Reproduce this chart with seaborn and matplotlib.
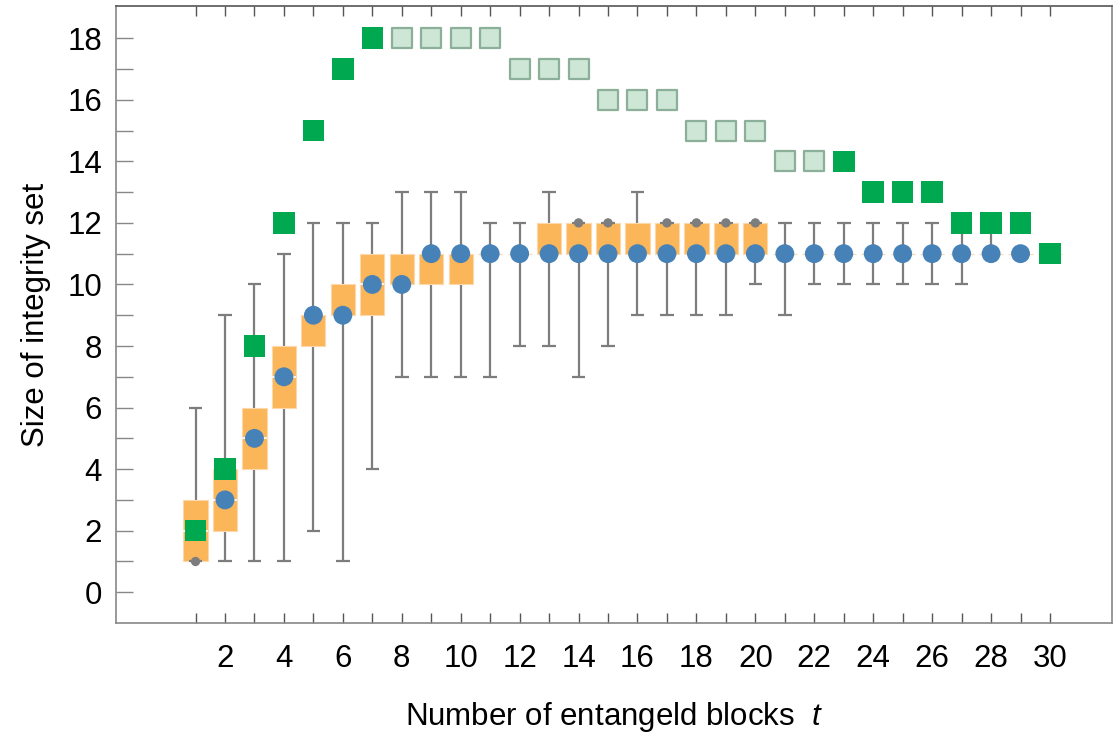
import numpy as np
import pandas as pd
import matplotlib
matplotlib.use("Agg")
import matplotlib.pyplot as plt
import seaborn as sns

# ---------------- data ----------------
t_vals = [1, 2, 3, 4, 5, 6, 7, 8, 9, 10, 11, 12, 13, 14, 15,
          16, 17, 18, 19, 20, 21, 22, 23, 24, 25, 26, 27, 28, 29, 30]
median_vals = [2, 3, 5, 7, 9, 9, 10, 10, 11, 11, 11, 11, 11, 11, 11,
               11, 11, 11, 11, 11, 11, 11, 11, 11, 11, 11, 11, 11, 11, 11]
q1_vals = [1, 2, 4, 6, 8, 9, 9, 10, 10, 10, 11, 11, 11, 11, 11,
           11, 11, 11, 11, 11, 11, 11, 11, 11, 11, 11, 11, 11, 11, 11]
q3_vals = [3, 4, 6, 8, 9, 10, 11, 11, 11, 11, 11, 11, 12, 12, 12,
           12, 12, 12, 12, 12, 11, 11, 11, 11, 11, 11, 11, 11, 11, 11]
min_vals = [1, 1, 1, 1, 2, 1, 4, 7, 7, 7, 7, 8, 8, 7, 8,
            9, 9, 9, 9, 10, 9, 10, 10, 10, 10, 10, 10, 11, 11, 11]
max_vals = [6, 9, 10, 11, 12, 12, 12, 13, 13, 13, 12, 12, 13, 12, 12,
            13, 12, 12, 12, 12, 12, 12, 12, 12, 12, 12, 12, 12, 11, 11]
dot_t = [1, 14, 15, 17, 18, 19, 20]
dot_y = [1, 12, 12, 12, 12, 12, 12]
bound_vals = [2, 4, 8, 12, 15, 17, 18, 18, 18, 18, 18, 17, 17, 17, 16,
              16, 16, 15, 15, 15, 14, 14, 14, 13, 13, 13, 12, 12, 12, 11]
bound_light = [False, False, False, False, False, False, False, True, True, True,
               True, True, True, True, True, True, True, True, True, True,
               True, True, False, False, False, False, False, False, False, False]

x_major = [2, 4, 6, 8, 10, 12, 14, 16, 18, 20, 22, 24, 26, 28, 30]
y_major = [0, 2, 4, 6, 8, 10, 12, 14, 16, 18]

# ---------------- style ----------------
sns.set_style("white")
plt.rcParams['font.family'] = ['Liberation Sans', 'DejaVu Sans']
plt.rcParams['mathtext.fontset'] = 'custom'
plt.rcParams['mathtext.it'] = 'Liberation Sans:italic'
plt.rcParams['mathtext.rm'] = 'Liberation Sans'
plt.rcParams['text.color'] = 'black'
plt.rcParams['axes.labelcolor'] = 'black'
plt.rcParams['xtick.labelcolor'] = 'black'
plt.rcParams['ytick.labelcolor'] = 'black'

ORANGE = '#FBB65A'
BLUE = '#4682B8'
GREEN = '#00A84F'
LGREEN_FILL = '#CDE6D6'
LGREEN_EDGE = '#8BAF98'
GRAY = '#7D7D7D'
FS = 22.5

df = pd.DataFrame({'t': t_vals, 'med': median_vals, 'q1': q1_vals, 'q3': q3_vals,
                   'lo': min_vals, 'hi': max_vals, 'bound': bound_vals,
                   'light': bound_light})

fig = plt.figure(figsize=(11.14, 7.33), dpi=100)
ax = fig.add_axes([0.1041, 0.150, 0.894, 0.842])

# whiskers (under boxes)
ax.vlines(df['t'], df['lo'], df['hi'], color=GRAY, lw=1.6, zorder=1)
cw = 0.23
ax.hlines(df['lo'], df['t'] - cw, df['t'] + cw, color=GRAY, lw=1.6, zorder=3)
ax.hlines(df['hi'], df['t'] - cw, df['t'] + cw, color=GRAY, lw=1.6, zorder=3)

# boxes
ax.bar(df['t'], df['q3'] - df['q1'], bottom=df['q1'], width=0.82,
       color=ORANGE, edgecolor='#FDD8A8', linewidth=0.8, zorder=2)
inside = (df['med'] > df['q1']) & (df['med'] < df['q3'])
ax.hlines(df.loc[inside, 'med'], df.loc[inside, 't'] - 0.41, df.loc[inside, 't'] + 0.41,
          color='white', lw=1.2, zorder=2.5)

# dots where a whisker has zero length
sns.scatterplot(x=dot_t, y=dot_y, ax=ax, s=45, color=GRAY, edgecolor='none',
                zorder=3.5, legend=False)

# medians
sns.scatterplot(data=df, x='t', y='med', ax=ax, s=185, color=BLUE,
                edgecolor='none', marker='o', zorder=4, legend=False)

# bound squares
light = df[df['light']]
dark = df[~df['light']]
sns.scatterplot(data=light, x='t', y='bound', ax=ax, s=200, marker='s',
                color=LGREEN_FILL, edgecolor=LGREEN_EDGE, linewidth=1.6,
                zorder=5, legend=False)
sns.scatterplot(data=dark, x='t', y='bound', ax=ax, s=240, marker='s',
                color=GREEN, edgecolor='none', zorder=5, legend=False)

# axes
ax.set_xlim(-1.7, 32.1)
ax.set_ylim(-1.0, 19.05)
ax.set_xticks(x_major)
ax.set_xticklabels([str(v) for v in x_major])
ax.set_xticks(t_vals, minor=True)
ax.set_yticks(y_major)
ax.set_yticklabels([str(v) for v in y_major])
ax.set_yticks(list(range(0, 19)), minor=True)

ax.tick_params(axis='x', which='both', direction='in', length=7, width=1,
               color='#555555', top=True, bottom=True, labelsize=FS, pad=15)
ax.tick_params(axis='y', which='both', direction='in', length=12, width=1,
               color='#888888', left=True, right=False, labelsize=FS, pad=10)

for side in ['left', 'bottom', 'right']:
    ax.spines[side].set_color('#888888')
    ax.spines[side].set_linewidth(1.2)
ax.spines['top'].set_color('#555555')
ax.spines['top'].set_linewidth(1.2)

ax.set_xlabel('Number of entangeld blocks  $t$', fontsize=FS, labelpad=19)
ax.set_ylabel('Size of integrity set', fontsize=FS, labelpad=12)
ax.grid(False)

fig.savefig('out.png', dpi=100)
